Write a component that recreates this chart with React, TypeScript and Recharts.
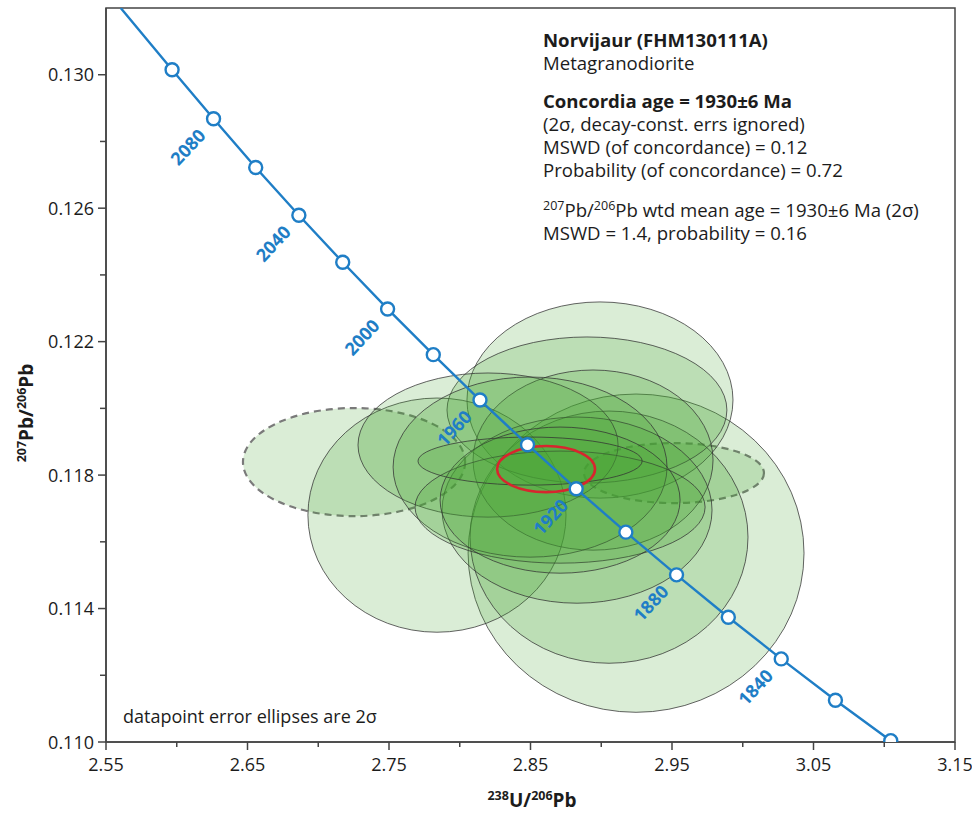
import React from 'react';
import { ComposedChart, XAxis, YAxis, Scatter, ReferenceArea } from 'recharts';

// ---------- data ----------
const concordiaAges = [2125, 2100, 2080, 2060, 2040, 2020, 2000, 1980, 1960, 1940, 1920, 1900, 1880, 1860, 1840, 1820, 1800];
const concordiaX = [2.5604, 2.5967, 2.6260, 2.6558, 2.6863, 2.7173, 2.7490, 2.7813, 2.8143, 2.8479, 2.8823, 2.9174, 2.9532, 2.9898, 3.0272, 3.0655, 3.1046];
const concordiaY = [0.1320, 0.13015, 0.12868, 0.12722, 0.12579, 0.12438, 0.12298, 0.12161, 0.12025, 0.11891, 0.11759, 0.11629, 0.11501, 0.11374, 0.11249, 0.11125, 0.11004];
const labelledAges = [2080, 2040, 2000, 1960, 1920, 1880, 1840];

// datapoint error ellipses (centre, half-widths in data units)
const ellipseCx = [2.9246, 2.8991, 2.7839, 2.9055, 2.8899, 2.8942, 2.8829, 2.8200, 2.8497, 2.8709, 2.8709, 2.8497];
const ellipseCy = [0.11566, 0.12025, 0.11680, 0.11614, 0.11995, 0.11845, 0.11695, 0.11890, 0.11824, 0.11704, 0.11725, 0.11842];
const ellipseSx = [0.1187, 0.0940, 0.0912, 0.0982, 0.0989, 0.0848, 0.0954, 0.0919, 0.0968, 0.1025, 0.0848, 0.0792];
const ellipseSy = [0.00477, 0.00294, 0.00351, 0.00378, 0.00219, 0.00270, 0.00279, 0.00216, 0.00270, 0.00168, 0.00219, 0.00072];

// rejected (dashed) ellipses
const rejectedCx = [2.7253, 2.9514];
const rejectedCy = [0.11839, 0.11806];
const rejectedSx = [0.0785, 0.0636];
const rejectedSy = [0.00162, 0.00090];

// concordia age ellipse
const ageCx = 2.8610;
const ageCy = 0.11818;
const ageSx = 0.0346;
const ageSy = 0.00069;

const xMajorTicks = [2.55, 2.65, 2.75, 2.85, 2.95, 3.05, 3.15];
const xMinorTicks = [2.6, 2.7, 2.8, 2.9, 3.0, 3.1];
const yMajorTicks = [0.110, 0.114, 0.118, 0.122, 0.126, 0.130];
const yMinorTicks = [0.112, 0.116, 0.120, 0.124, 0.128];

// ---------- styling ----------
const FONT = '"Open Sans", "Noto Sans", sans-serif';
const BLUE = '#1f7ec6';
const AXIS = '#444';
const TEXT = '#1c1c1c';

const concordiaData = concordiaAges.map((age, i) => ({
  x: concordiaX[i],
  y: concordiaY[i],
  age,
  marker: age <= 2100,
  label: labelledAges.includes(age),
}));

const isIn = (v: number, arr: number[]) => arr.some((a) => Math.abs(a - v) < 1e-7);

const XTick = (props: any) => {
  const { x, y, payload } = props;
  const major = isIn(payload.value, xMajorTicks);
  return (
    <g>
      <line x1={x} y1={y} x2={x} y2={y + (major ? 8 : 5)} stroke={AXIS} strokeWidth={1.5} />
      {major && (
        <text x={x} y={y + 29} textAnchor="middle" fontFamily={FONT} fontSize={18} fill={TEXT}>
          {payload.value.toFixed(2)}
        </text>
      )}
    </g>
  );
};

const YTick = (props: any) => {
  const { x, y, payload } = props;
  const major = isIn(payload.value, yMajorTicks);
  return (
    <g>
      <line x1={x} y1={y} x2={x - (major ? 8 : 6)} y2={y} stroke={AXIS} strokeWidth={1.5} />
      {major && (
        <text x={x - 12} y={y + 6.5} textAnchor="end" fontFamily={FONT} fontSize={18} fill={TEXT}>
          {payload.value.toFixed(3)}
        </text>
      )}
    </g>
  );
};

const ellipseShape = (style: any) => (props: any) => {
  const { x, y, width, height } = props;
  return (
    <ellipse
      cx={x + width / 2}
      cy={y + height / 2}
      rx={Math.abs(width) / 2}
      ry={Math.abs(height) / 2}
      {...style}
    />
  );
};

const solidStyle = { fill: '#46a532', fillOpacity: 0.2, stroke: '#333', strokeWidth: 0.9, strokeOpacity: 0.85 };
const dashedStyle = { fill: '#46a532', fillOpacity: 0.2, stroke: '#7a7a7a', strokeWidth: 2.2, strokeDasharray: '7 5' };
const ageStyle = { fill: 'none', stroke: '#d7262e', strokeWidth: 2.6 };

const frameShape = (props: any) => {
  const { x, y, width, height } = props;
  return <rect x={x} y={y} width={width} height={height} fill="none" stroke={AXIS} strokeWidth={1.5} />;
};

const ConcordiaPoint = (props: any) => {
  const { cx, cy, payload } = props;
  if (!payload || !payload.marker) return <g />;
  return (
    <g>
      <circle cx={cx} cy={cy} r={6.5} fill="#fff" stroke={BLUE} strokeWidth={2.4} />
      {payload.label && (
        <text
          x={cx - 26}
          y={cy + 28}
          transform={`rotate(-47 ${cx - 26} ${cy + 28})`}
          textAnchor="middle"
          dominantBaseline="central"
          fontFamily={FONT}
          fontWeight={700}
          fontSize={18}
          fill={BLUE}
        >
          {payload.age}
        </text>
      )}
    </g>
  );
};

const Sup = ({ children }: { children: React.ReactNode }) => (
  <tspan fontSize={12.5} dy={-7}>{children}</tspan>
);

export default function App() {
  const tx = 543;
  const fs = 18.6;
  return (
    <div style={{ position: 'absolute', left: 0, top: 0, width: 972, height: 814, background: '#fff' }}>
      <ComposedChart width={972} height={814} margin={{ top: 8, right: 17, left: 0, bottom: 0 }}>
        <XAxis
          type="number"
          dataKey="x"
          domain={[2.55, 3.15]}
          ticks={[...xMajorTicks, ...xMinorTicks].sort((a, b) => a - b)}
          allowDataOverflow
          height={72}
          tickSize={0}
          tickMargin={0}
          tickLine={false}
          axisLine={{ stroke: AXIS, strokeWidth: 1.5 }}
          tick={(p: any) => <XTick {...p} />}
          interval={0}
        />
        <YAxis
          type="number"
          dataKey="y"
          domain={[0.11, 0.132]}
          ticks={[...yMajorTicks, ...yMinorTicks].sort((a, b) => a - b)}
          allowDataOverflow
          width={106}
          tickSize={0}
          tickMargin={0}
          tickLine={false}
          axisLine={{ stroke: AXIS, strokeWidth: 1.5 }}
          tick={(p: any) => <YTick {...p} />}
          interval={0}
        />
        {rejectedCx.map((cx, i) => (
          <ReferenceArea
            key={`r${i}`}
            x1={cx - rejectedSx[i]}
            x2={cx + rejectedSx[i]}
            y1={rejectedCy[i] - rejectedSy[i]}
            y2={rejectedCy[i] + rejectedSy[i]}
            ifOverflow="visible"
            shape={ellipseShape(dashedStyle)}
          />
        ))}
        {ellipseCx.map((cx, i) => (
          <ReferenceArea
            key={`e${i}`}
            x1={cx - ellipseSx[i]}
            x2={cx + ellipseSx[i]}
            y1={ellipseCy[i] - ellipseSy[i]}
            y2={ellipseCy[i] + ellipseSy[i]}
            ifOverflow="visible"
            shape={ellipseShape(solidStyle)}
          />
        ))}
        <ReferenceArea
          x1={ageCx - ageSx}
          x2={ageCx + ageSx}
          y1={ageCy - ageSy}
          y2={ageCy + ageSy}
          ifOverflow="visible"
          shape={ellipseShape(ageStyle)}
        />
        <ReferenceArea x1={2.55} x2={3.15} y1={0.11} y2={0.132} ifOverflow="visible" shape={frameShape} />
        <Scatter
          data={concordiaData}
          dataKey="y"
          isAnimationActive={false}
          line={{ stroke: BLUE, strokeWidth: 2.4 }}
          lineType="joint"
          shape={(p: any) => <ConcordiaPoint {...p} />}
        />
      </ComposedChart>
      <svg
        width={972}
        height={814}
        style={{ position: 'absolute', left: 0, top: 0, pointerEvents: 'none' }}
        fontFamily={FONT}
        fill={TEXT}
      >
        <text x={tx} y={47} fontSize={fs} fontWeight={700}>Norvijaur (FHM130111A)</text>
        <text x={tx} y={70} fontSize={fs}>Metagranodiorite</text>
        <text x={tx} y={108} fontSize={fs} fontWeight={700}>Concordia age = 1930±6 Ma</text>
        <text x={tx} y={131} fontSize={fs}>(2σ, decay-const. errs ignored)</text>
        <text x={tx} y={154} fontSize={fs}>MSWD (of concordance) = 0.12</text>
        <text x={tx} y={177} fontSize={fs}>Probability (of concordance) = 0.72</text>
        <text x={tx} y={217} fontSize={fs}>
          <Sup>207</Sup>
          <tspan dy={7}>Pb/</tspan>
          <Sup>206</Sup>
          <tspan dy={7}>Pb wtd mean age = 1930±6 Ma (2σ)</tspan>
        </text>
        <text x={tx} y={240} fontSize={fs}>MSWD = 1.4, probability = 0.16</text>
        <text x={123} y={723} fontSize={18}>datapoint error ellipses are 2σ</text>
        <text x={532} y={807} fontSize={19} fontWeight={700} textAnchor="middle">
          <Sup>238</Sup>
          <tspan dy={7}>U/</tspan>
          <Sup>206</Sup>
          <tspan dy={7}>Pb</tspan>
        </text>
        <text x={33} y={413} fontSize={19} fontWeight={700} textAnchor="middle" transform="rotate(-90 33 413)">
          <Sup>207</Sup>
          <tspan dy={7}>Pb/</tspan>
          <Sup>206</Sup>
          <tspan dy={7}>Pb</tspan>
        </text>
      </svg>
    </div>
  );
}
